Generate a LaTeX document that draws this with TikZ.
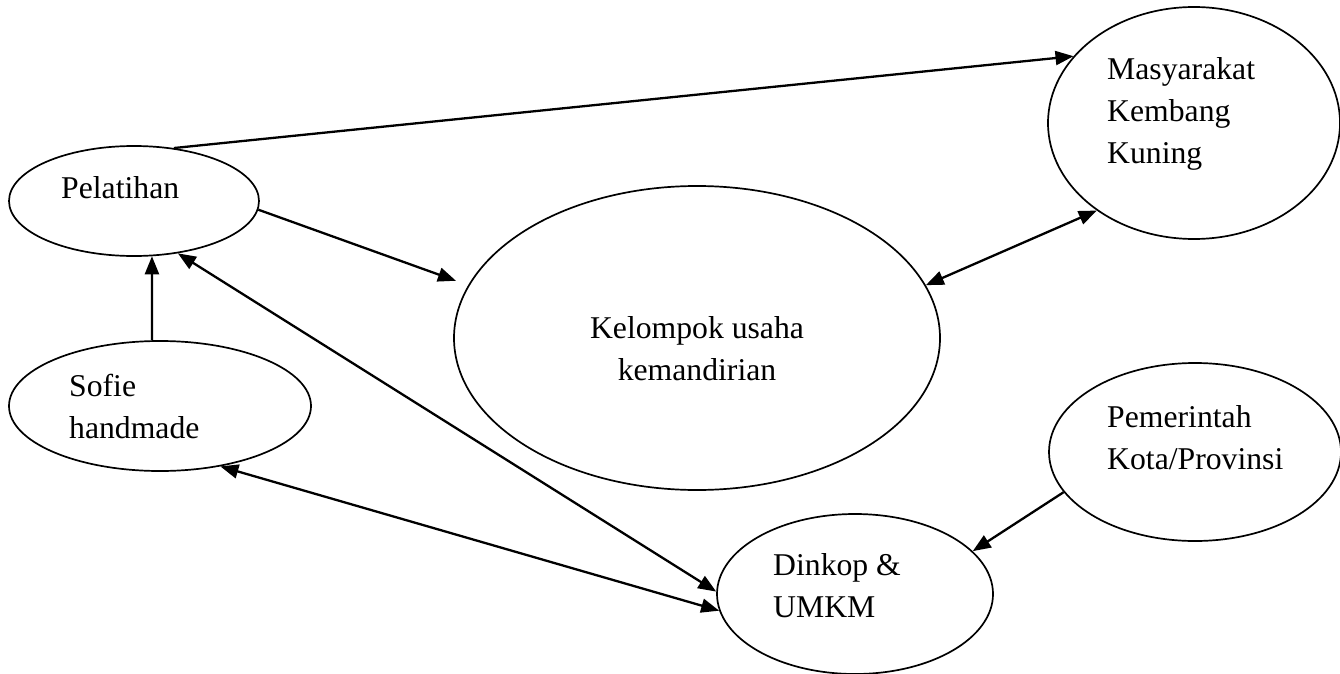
\documentclass[tikz,border=0pt]{standalone}
\usepackage{fontspec}
\setmainfont{Liberation Serif}
\usepackage{tikz}
\usetikzlibrary{shapes.geometric}
\usetikzlibrary{arrows.meta}

\begin{document}
\begin{tikzpicture}[x=1pt,y=-1pt,
  >={Triangle[length=18pt,width=14pt]},
  bubble/.style={ellipse,draw,line width=1.7pt,inner sep=0pt},
  lbl/.style={anchor=base west,align=left,inner sep=0pt,font=\fontsize{31.7}{42}\selectfont}]
  \useasboundingbox (0,0) rectangle (1340,674);

  \node[bubble,minimum width=250pt,minimum height=110pt] (pel) at (134,201) {};
  \node[bubble,minimum width=302pt,minimum height=130pt] (sof) at (160,406) {};
  \node[bubble,minimum width=486pt,minimum height=304pt] (kel) at (697,338) {};
  \node[bubble,minimum width=292pt,minimum height=232pt] (mas) at (1194,123) {};
  \node[bubble,minimum width=292pt,minimum height=178pt] (pem) at (1195,452) {};
  \node[bubble,minimum width=276pt,minimum height=160pt] (din) at (855,594) {};

  % base anchor sits on the last line
  \node[lbl] (pel-t) at (61,198) {Pelatihan};
  \node[lbl] (sof-t) at (69,438) {Sofie\\handmade};
  \node[lbl,anchor=base,align=center] (kel-t) at (697,380) {Kelompok usaha\\kemandirian};
  \node[lbl] (mas-t) at (1107,163) {Masyarakat\\Kembang\\Kuning};
  \node[lbl] (pem-t) at (1107,469) {Pemerintah\\Kota/Provinsi};
  \node[lbl] (din-t) at (773,617) {Dinkop \&\\UMKM};

  \path[->,line width=2.3pt]
    (pel.53) edge (mas.151)
    (pel.-4) edge[shorten >=13pt] (kel.167)
    (sof.97) edge (pel.-72)
    (pem.197) edge (din.20);
  \path[<->,line width=2.3pt]
    (kel.13) edge (mas.222)
    (pel.-50) edge (din.179)
    (sof.-45) edge (din.187);
\end{tikzpicture}
\end{document}
